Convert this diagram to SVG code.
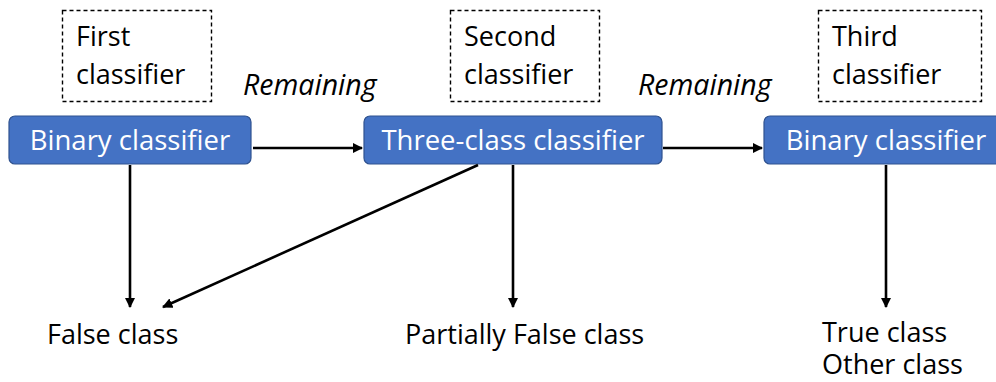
<svg xmlns="http://www.w3.org/2000/svg" width="996" height="382" viewBox="0 0 996 382">
  <style>
    .node rect { fill: #4472C4; stroke: #2F528F; stroke-width: 1.2; }
    .node text { fill: #FFFFFF; font-family: "Open Sans", "Liberation Sans", sans-serif; font-size: 27.5px; text-anchor: middle; }
    .note rect { fill: none; stroke: #000; stroke-width: 1.4; stroke-dasharray: 4 3; }
    .lbl { fill: #000; font-family: "Open Sans", "Liberation Sans", sans-serif; font-size: 27px; }
    .it { font-style: italic; font-size: 28.5px; }
    .edge { stroke: #000; stroke-width: 2.6; fill: none; marker-end: url(#arrow); }
  </style>
  <defs>
    <marker id="arrow" viewBox="0 0 10 10" refX="9" refY="5" markerWidth="4" markerHeight="4" orient="auto" markerUnits="strokeWidth">
      <path d="M0,0 L10,5 L0,10 z" fill="#000"/>
    </marker>
  </defs>
  <rect width="996" height="382" fill="#FFFFFF"/>

  <!-- stage annotations -->
  <g id="note-first" class="note">
    <rect x="62.5" y="10.5" width="149" height="91"/>
    <text class="lbl" x="76" y="46">First</text>
    <text class="lbl" x="76" y="84">classifier</text>
  </g>
  <g id="note-second" class="note">
    <rect x="450.5" y="10.5" width="149" height="91"/>
    <text class="lbl" x="464" y="46">Second</text>
    <text class="lbl" x="464" y="84">classifier</text>
  </g>
  <g id="note-third" class="note">
    <rect x="818.5" y="10.5" width="163" height="91"/>
    <text class="lbl" x="832" y="46">Third</text>
    <text class="lbl" x="832" y="84">classifier</text>
  </g>

  <!-- classifiers -->
  <g id="binary-1" class="node">
    <rect x="9" y="116" width="242" height="48" rx="6"/>
    <text x="130" y="150">Binary classifier</text>
  </g>
  <g id="three-class" class="node">
    <rect x="364" y="116" width="298" height="48" rx="6"/>
    <text x="513" y="150">Three-class classifier</text>
  </g>
  <g id="binary-2" class="node">
    <rect x="764" y="116" width="240" height="48" rx="6"/>
    <text x="886" y="150">Binary classifier</text>
  </g>

  <!-- outcomes -->
  <g id="false-class">
    <text class="lbl" x="47" y="344">False class</text>
  </g>
  <g id="partially-false-class">
    <text class="lbl" x="405" y="344">Partially False class</text>
  </g>
  <g id="true-other-class">
    <text class="lbl" x="822" y="342">True class</text>
    <text class="lbl" x="822" y="374">Other class</text>
  </g>

  <!-- connectors -->
  <g id="connectors">
    <line class="edge" x1="253" y1="148" x2="362" y2="148"/>
    <line class="edge" x1="663" y1="148" x2="762" y2="148"/>
    <line class="edge" x1="130" y1="165" x2="130" y2="307"/>
    <line class="edge" x1="478" y1="165" x2="163" y2="307"/>
    <line class="edge" x1="513" y1="165" x2="513" y2="307"/>
    <line class="edge" x1="886" y1="165" x2="886" y2="307"/>
    <text class="lbl it" x="243" y="95">Remaining</text>
    <text class="lbl it" x="638" y="95">Remaining</text>
  </g>
</svg>
